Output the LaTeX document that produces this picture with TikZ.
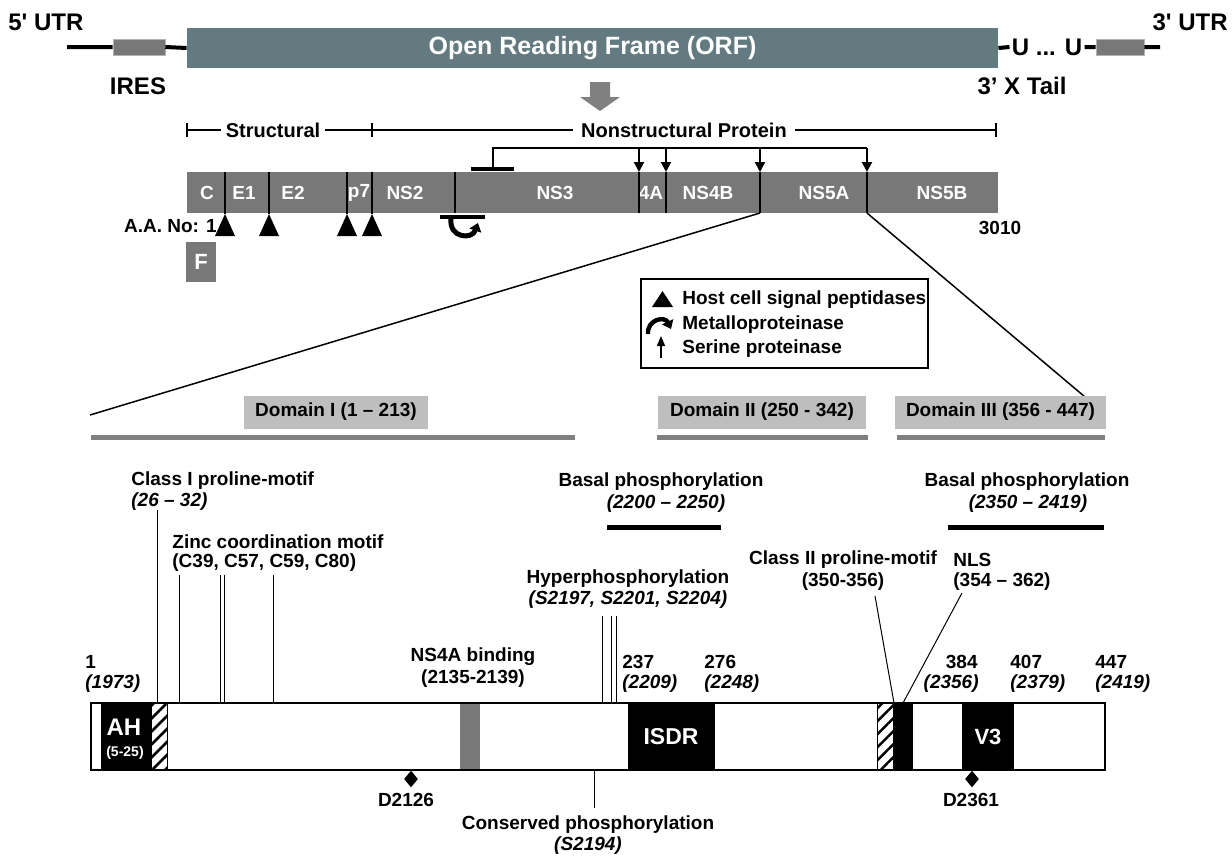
\documentclass[tikz,border=0pt]{standalone}
\usepackage{fontspec}
\setmainfont{Liberation Sans}
\usepackage{tikz}
\usetikzlibrary{positioning}
\usetikzlibrary{calc}
\usetikzlibrary{arrows.meta}
\usetikzlibrary{patterns.meta}
\usetikzlibrary{shapes.geometric}

\definecolor{orfteal}{RGB}{98,122,128}
\definecolor{protgray}{RGB}{120,120,120}
\definecolor{domgray}{RGB}{190,190,190}
\definecolor{domline}{RGB}{128,128,128}

\begin{document}
\begin{tikzpicture}[x=0.5pt,y=-0.5pt,
  lab/.style={font=\bfseries\fontsize{9.5}{11}\selectfont,inner sep=0pt},
  ital/.style={font=\bfseries\itshape\fontsize{9.5}{11}\selectfont,inner sep=0pt},
  rnalab/.style={font=\bfseries\fontsize{12}{14}\selectfont,inner sep=0pt},
  seglab/.style={font=\bfseries\fontsize{9.5}{11}\selectfont,text=white,inner sep=0pt},
  dombox/.style={lab,fill=domgray,minimum height=16.5pt},
  rna/.style={line width=2pt},
  brk/.style={line width=0.8pt},
  cut/.style={line width=0.6pt},
  motif/.style={line width=0.5pt},
  domln/.style={domline,line width=2.5pt},
  basal/.style={line width=2.5pt},
  hatch/.style={draw,line width=0.4pt,pattern={Lines[angle=45,distance=4.6pt,line width=1.3pt]}},
  site/.style={diamond,fill=black,inner sep=0pt,minimum width=7pt,minimum height=8.5pt}]
\useasboundingbox (0,0) rectangle (1232,857);

% genome
\node[fill=orfteal,minimum width=405.5pt,minimum height=20pt,inner sep=0pt,text=white,
  font=\bfseries\fontsize{12.5}{14}\selectfont] (orf) at (592.5,48) {Open Reading Frame (ORF)};
\node[fill=protgray,draw=gray!60,line width=0.3pt,minimum width=26pt,minimum height=8pt,inner sep=0pt] (ires) at (139,47) {};
\node[fill=protgray,draw=gray!60,line width=0.3pt,minimum width=24pt,minimum height=8pt,inner sep=0pt] (ires3) at (1120,47) {};
\node[rnalab,inner xsep=1pt] (utail) at (1047,47) {U ... U};
\coordinate (rna5) at (67,47);
\coordinate (rna3) at (1160,47);
\draw[rna] (rna5) -- (ires.west) (ires.east) -- (orf.west);
\draw[rna] (orf.east) -- (utail.west) (utail.east) -- (ires3.west) (ires3.east) -- (rna3);
\node[rnalab,anchor=west] (utr5) at (8,22) {5\textquotesingle{} UTR};
\node[rnalab,anchor=east] (utr3) at (1228,22) {3\textquotesingle{} UTR};
\node[rnalab] (iresl) at (138,86) {IRES};
\node[rnalab] (xtail) at (1022,86) {3’ X Tail};
\fill[domline] (590,82) -- (610,82) -- (610,97) -- (620,97) -- (600,111) -- (580,97) -- (590,97) -- cycle;

% polyprotein
\coordinate (sL) at (187,130);
\coordinate (sM) at (372,130);
\coordinate (sR) at (996,130);
\node[lab,font=\bfseries\fontsize{10}{12}\selectfont,inner xsep=2pt] (structural) at (273,130) {Structural};
\node[lab,font=\bfseries\fontsize{10}{12}\selectfont,inner xsep=4pt] (nonstruct) at (684,130) {Nonstructural Protein};
\draw[brk] (sL) -- (structural.west) (structural.east) -- (sM) -- (nonstruct.west) (nonstruct.east) -- (sR);
\foreach \x in {187,372,996} \draw[brk] (\x,123) -- (\x,137);

\node[fill=protgray,minimum width=405.5pt,minimum height=20.5pt,inner sep=0pt] (poly) at (592.5,192.5) {};
\foreach \x/\t in {207/C,244/E1,293/E2,359/p7,405/NS2,555/NS3,651/4A,708/NS4B,824/NS5A,942/NS5B}
  \node[seglab] (seg-\t) at (\x,193) {\t};
\foreach \x in {225,269,347,372}
  \draw[cut] (\x,172) -- (\x,214);
\foreach \x in {455,639,666,760,867}
  \draw[cut] (\x,172) -- (\x,213);
\foreach \x in {225,269,347,372}
  \fill (\x,214) -- ({\x+10},236) -- ({\x-10},236) -- cycle;

% NS3 serine proteinase
\coordinate (hub) at (493,148);
\fill (471,167) rectangle (514,171);
\draw[line width=1pt] (493,168) -- (hub) -- (867,148);
\foreach \x in {639,666,760,867}
  \draw[line width=1pt,-{Triangle[width=5pt,length=5pt]}] (\x,148) -- (\x,172);

% NS2 metalloproteinase
\fill (440,215) rectangle (485,219);
\draw[line width=2.5pt,-{Triangle[width=6pt,length=4pt]}] (451,219) .. controls (449,238) and (472,240) .. (478,223);

\node[lab,anchor=east] (aano) at (217,226) {A.A. No: 1};
\node[lab] (aa3010) at (1000,228) {3010};
\node[fill=protgray,text=white,font=\bfseries\fontsize{11}{13}\selectfont,minimum width=15pt,minimum height=20pt,inner sep=0pt] (fbox) at (201,262) {F};

% zoom into NS5A
\coordinate (z1) at (760,213);
\coordinate (z2) at (867,213);
\coordinate (zl) at (90,415);
\coordinate (zr) at (1104,413);
\draw[line width=0.75pt] (z1) -- (zl) (z2) -- (zr);

% legend
\node[draw,line width=0.7pt,minimum width=143.5pt,minimum height=44.5pt,inner sep=0pt] (legend) at (784.5,323.5) {};
\fill (652,307) -- (673,307) -- (662.5,291) -- cycle;
\draw[line width=2.2pt,-{Triangle[width=6pt,length=4pt]}] (648,334) .. controls (647,319) and (665,316) .. (671,329);
\draw[line width=0.8pt,-{Triangle[width=4pt,length=5pt]}] (661,358) -- (661,336);
\node[lab,anchor=west] (leg1) at (682,300) {Host cell signal peptidases};
\node[lab,anchor=west] (leg2) at (682,325) {Metalloproteinase};
\node[lab,anchor=west] (leg3) at (682,349) {Serine proteinase};

% domains
\node[dombox,minimum width=92pt] (dom1) at (336,412) {Domain I (1 -- 213)};
\node[dombox,minimum width=104pt] (dom2) at (762,412) {Domain II (250 - 342)};
\node[dombox,minimum width=105.5pt] (dom3) at (1000.5,412) {Domain III (356 - 447)};
\draw[domln] (91,437) -- (575,437);
\draw[domln] (657,437) -- (868,437);
\draw[domln] (897,437) -- (1105,437);

% phosphorylation
\node[lab] (basal1) at (661,482) {Basal phosphorylation};
\node[ital] (basal1r) at (666,504) {(2200 -- 2250)};
\draw[basal] (607,527) -- (721,527);
\node[lab] (basal2) at (1027,482) {Basal phosphorylation};
\node[ital] (basal2r) at (1028,504) {(2350 -- 2419)};
\draw[basal] (948,527) -- (1104,527);
\node[lab] (hyper) at (628,579) {Hyperphosphorylation};
\node[ital] (hyperr) at (628,600) {(S2197, S2201, S2204)};

% motifs
\node[lab,anchor=west] (cls1) at (131,481) {Class I proline-motif};
\node[ital,anchor=west] (cls1r) at (131,502) {(26 -- 32)};
\node[lab,anchor=west] (zinc) at (172,542) {Zinc coordination motif};
\node[lab,anchor=west] (zincr) at (172,563) {(C39, C57, C59, C80)};
\node[lab] (cls2) at (843,560) {Class II proline-motif};
\node[lab] (cls2r) at (843,582) {(350-356)};
\node[lab,anchor=west] (nls) at (953,560) {NLS};
\node[lab,anchor=west] (nlsr) at (953,582) {(354 -- 362)};
\node[lab] (ns4ab) at (473,657) {NS4A binding};
\node[lab] (ns4abr) at (473,679) {(2135-2139)};

% NS5A bar
\fill (101,703) rectangle (151,770);
\path[hatch] (151,703) rectangle (167,770);
\fill[protgray] (460,703) rectangle (480,770);
\fill (628,703) rectangle (715,770);
\path[hatch] (877,703) rectangle (893,770);
\fill (893,703) rectangle (913,770);
\fill (962,703) rectangle (1014,770);
\node[draw,line width=0.6pt,minimum width=507pt,minimum height=33.5pt,inner sep=0pt] (ns5a) at (598,736.5) {};
\node[text=white,font=\bfseries\fontsize{12}{14}\selectfont,inner sep=0pt] (ah) at (124,727) {AH};
\node[text=white,font=\bfseries\fontsize{7}{8}\selectfont,inner sep=0pt] (ahr) at (125,753) {(5-25)};
\node[text=white,font=\bfseries\fontsize{11.5}{13}\selectfont,inner sep=0pt] (isdr) at (671,737) {ISDR};
\node[text=white,font=\bfseries\fontsize{11}{13}\selectfont,inner sep=0pt] (v3) at (988,737) {V3};

% motif lines
\draw[motif] (157,510) -- (157,703);
\foreach \x in {179,220,224,273} \draw[motif] (\x,575) -- (\x,703);
\foreach \x in {602,611,616} \draw[motif] (\x,616) -- (\x,703);
\draw[motif] (875,596) -- (894,703);
\draw[motif] (962,593) -- (903,703);
\draw[motif] (594,770) -- (594,808);

% positions
\node[lab,anchor=west] (p1) at (85,662) {1};
\node[ital,anchor=west] (p1r) at (85,684) {(1973)};
\node[lab,anchor=west] (p237) at (622,662) {237};
\node[ital,anchor=west] (p237r) at (622,684) {(2209)};
\node[lab,anchor=west] (p276) at (704,662) {276};
\node[ital,anchor=west] (p276r) at (704,684) {(2248)};
\node[lab,anchor=east] (p384) at (978,662) {384};
\node[ital,anchor=east] (p384r) at (979,684) {(2356)};
\node[lab,anchor=west] (p407) at (1010,662) {407};
\node[ital,anchor=west] (p407r) at (1010,684) {(2379)};
\node[lab,anchor=west] (p447) at (1095,662) {447};
\node[ital,anchor=west] (p447r) at (1095,684) {(2419)};

% below the bar
\node[site] (d1) at (411,779) {};
\node[lab] (d1l) at (406,800) {D2126};
\node[site] (d2) at (972,779) {};
\node[lab] (d2l) at (971,800) {D2361};
\node[lab] (cons) at (588,825) {Conserved phosphorylation};
\node[ital] (consr) at (588,846) {(S2194)};
\end{tikzpicture}
\end{document}
